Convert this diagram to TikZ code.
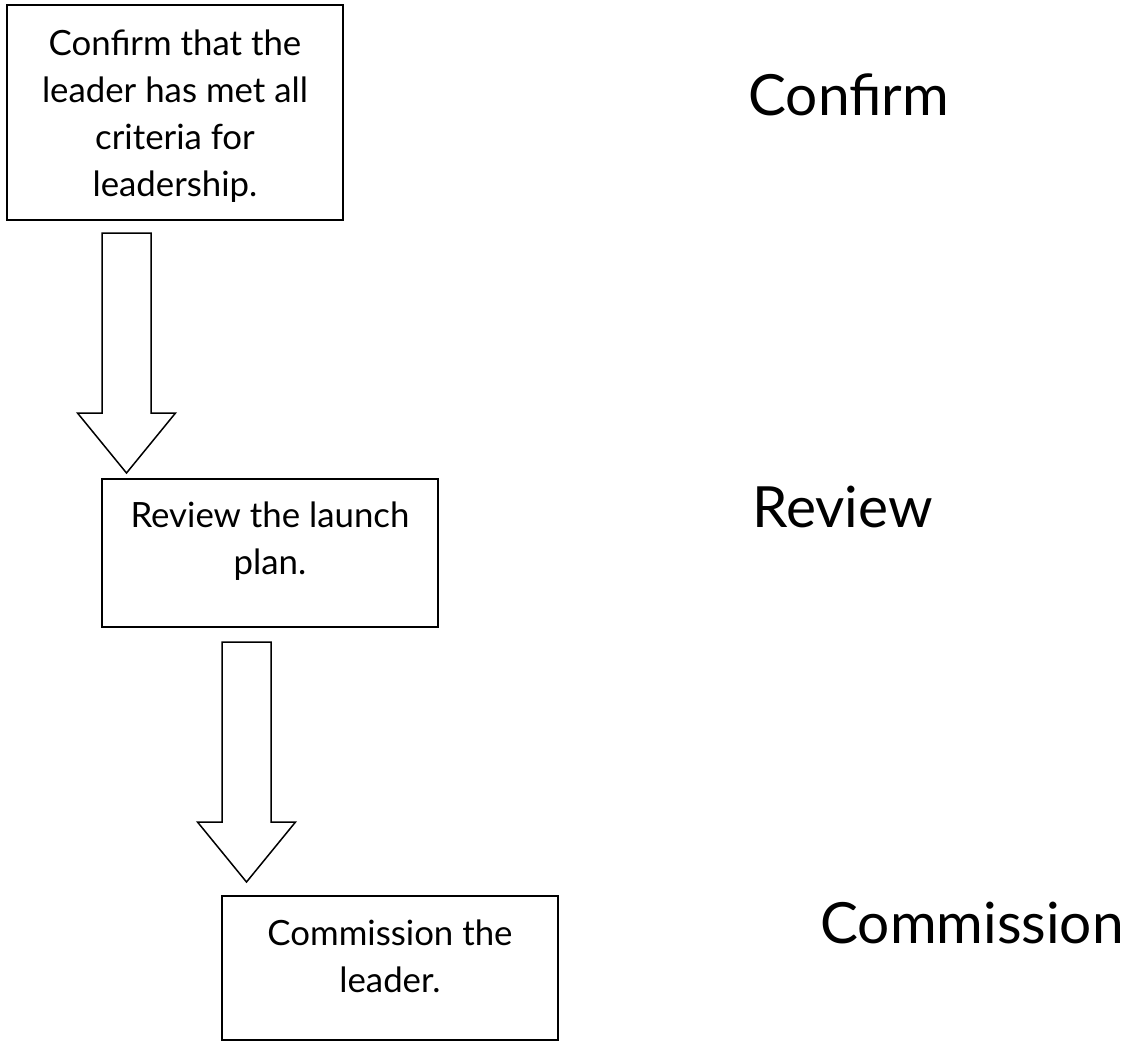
\documentclass[tikz,border=0pt]{standalone}
\usepackage{fontspec}
\setmainfont{Lato}
\usetikzlibrary{calc}

% hollow block arrow from a start point (top of shaft) to the tip
\newcommand\fatarrow[2]{%
  \draw[arrowline] ($(#1)+(-24.5,0)$) -- ($(#1)+(24.5,0)$)
    -- ($(#2)+(24.5,-60)$) -- ($(#2)+(49,-60)$) -- (#2)
    -- ($(#2)+(-49,-60)$) -- ($(#2)+(-24.5,-60)$) -- cycle;}

\begin{document}
\begin{tikzpicture}[x=0.5pt,y=-0.5pt,
  stepbox/.style={draw=black, line width=1pt, fill=white, inner sep=0pt, outer sep=0pt,
                  minimum width=168pt},
  boxtext/.style={align=center, font=\fontsize{17.4}{23.5}\selectfont, inner sep=0pt},
  sidelabel/.style={font=\fontsize{28.4}{32}\selectfont, inner sep=0pt, anchor=base west},
  arrowline/.style={draw=black, line width=0.75pt, fill=white, line join=miter}]
  \useasboundingbox (0,0) rectangle (1135,1041);

  % the three step boxes
  \node[stepbox, minimum height=107.5pt] (b1) at (175,112.5) {};
  \node[stepbox, minimum height=74pt]    (b2) at (270,553) {};
  \node[stepbox, minimum height=72pt]    (b3) at (390,968) {};

  % box texts (base anchor sits on the last line)
  \node[boxtext, anchor=base] (t1) at ($(b1.north)+(0,191)$)
    {Confirm that the\\leader has met all\\criteria for\\leadership.};
  \node[boxtext, anchor=base] (t2) at ($(b2.north)+(0,95)$)
    {Review the launch\\plan.};
  \node[boxtext, anchor=base] (t3) at ($(b3.north)+(0,96)$)
    {Commission the\\leader.};

  % arrows between the boxes
  \coordinate (a1s) at ($(b1.south -| b2.west)+(24.5,13)$);
  \coordinate (a1e) at ($(b2.north west)+(24.5,-6)$);
  \coordinate (a2s) at ($(b2.south -| b3.west)+(24.5,15)$);
  \coordinate (a2e) at ($(b3.north west)+(24.5,-14)$);
  \fatarrow{a1s}{a1e}
  \fatarrow{a2s}{a2e}

  % step names on the right
  \node[sidelabel] (l1) at (748,115) {Confirm};
  \node[sidelabel] (l2) at (752,527) {Review};
  \node[sidelabel] (l3) at (820,943) {Commission};
\end{tikzpicture}
\end{document}
